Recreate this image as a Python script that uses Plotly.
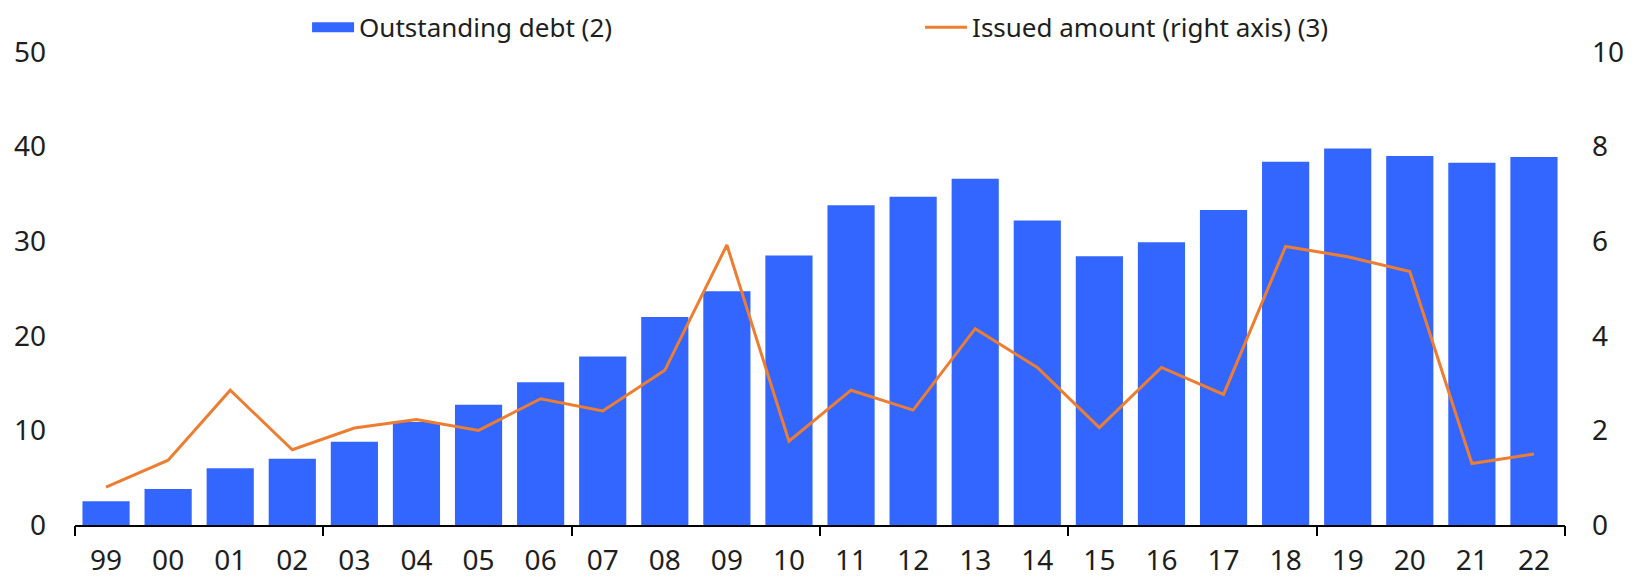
import plotly.graph_objects as go

years = ["99", "00", "01", "02", "03", "04", "05", "06", "07", "08", "09", "10",
         "11", "12", "13", "14", "15", "16", "17", "18", "19", "20", "21", "22"]
outstanding_debt = [2.5, 3.8, 6.0, 7.0, 8.8, 10.9, 12.7, 15.1, 17.8, 22.0, 24.7, 28.5,
                    33.8, 34.7, 36.6, 32.2, 28.4, 29.9, 33.3, 38.4, 39.8, 39.0, 38.3, 38.9]
issued_amount = [0.8, 1.37, 2.85, 1.59, 2.05, 2.23, 2.0, 2.67, 2.41, 3.27, 5.92, 1.77,
                 2.85, 2.43, 4.15, 3.33, 2.06, 3.33, 2.76, 5.89, 5.67, 5.36, 1.30, 1.50]
left_ticks = [0, 10, 20, 30, 40, 50]
right_ticks = [0, 2, 4, 6, 8, 10]
boundary_ticks = [-0.5, 3.5, 7.5, 11.5, 15.5, 19.5, 23.5]

BLUE = "#3366FF"
ORANGE = "#ED7D31"
TXT = "#1e1e1e"
FONT = "Noto Sans"
TICK_SIZE = 28

fig = go.Figure()
fig.add_trace(go.Bar(x=years, y=outstanding_debt, marker=dict(color=BLUE, line=dict(width=0)),
                     name="Outstanding debt (2)", showlegend=False, xaxis="x", yaxis="y"))
fig.add_trace(go.Scatter(x=years, y=issued_amount, mode="lines",
                         line=dict(color=ORANGE, width=3),
                         name="Issued amount (right axis) (3)", showlegend=False,
                         xaxis="x", yaxis="y2"))
# legend proxies
fig.add_trace(go.Scatter(x=[None], y=[None], mode="lines", line=dict(color=BLUE, width=16),
                         name="Outstanding debt (2)", xaxis="x", yaxis="y"))
fig.add_trace(go.Scatter(x=[None], y=[None], mode="lines", line=dict(color=ORANGE, width=3),
                         name="Issued amount (right axis) (3)", xaxis="x", yaxis="y2"))
# dummy trace so the boundary-tick axis renders
fig.add_trace(go.Scatter(x=[None], y=[None], xaxis="x3", yaxis="y", showlegend=False))

fig.update_layout(
    width=1628, height=569,
    margin=dict(l=67, r=71, t=44, b=52, autoexpand=False),
    paper_bgcolor="white", plot_bgcolor="white",
    font=dict(family=FONT, size=TICK_SIZE, color=TXT),
    bargap=0.24,
    legend=dict(orientation="h", xref="container", yref="container",
                x=0.1837, y=0.966, xanchor="left", yanchor="middle",
                font=dict(family=FONT, size=26, color=TXT), itemwidth=42,
                entrywidth=556, entrywidthmode="pixels", bgcolor="rgba(0,0,0,0)"),
    xaxis=dict(type="category", range=[-0.5, 23.5], categoryorder="array", categoryarray=years,
               showline=True, linecolor="black", linewidth=2, ticks="",
               showgrid=False, zeroline=False, ticklabelstandoff=9, automargin=False,
               tickfont=dict(family=FONT, size=TICK_SIZE, color=TXT)),
    xaxis3=dict(overlaying="x", anchor="y", range=[-0.5, 23.5], tickvals=boundary_ticks,
                ticks="outside", ticklen=10, tickwidth=2, tickcolor="black",
                showticklabels=False, showgrid=False, zeroline=False, showline=False,
                automargin=False),
    yaxis=dict(range=[0, 50], tickvals=left_ticks, showgrid=False, zeroline=False,
               showline=False, ticks="", ticklabelstandoff=28, automargin=False,
               tickfont=dict(family=FONT, size=TICK_SIZE, color=TXT)),
    yaxis2=dict(range=[0, 10], tickvals=right_ticks, overlaying="y", side="right",
                showgrid=False, zeroline=False, showline=False, ticks="",
                ticklabelstandoff=26, automargin=False,
                tickfont=dict(family=FONT, size=TICK_SIZE, color=TXT)),
)

fig.write_html("out.html")
